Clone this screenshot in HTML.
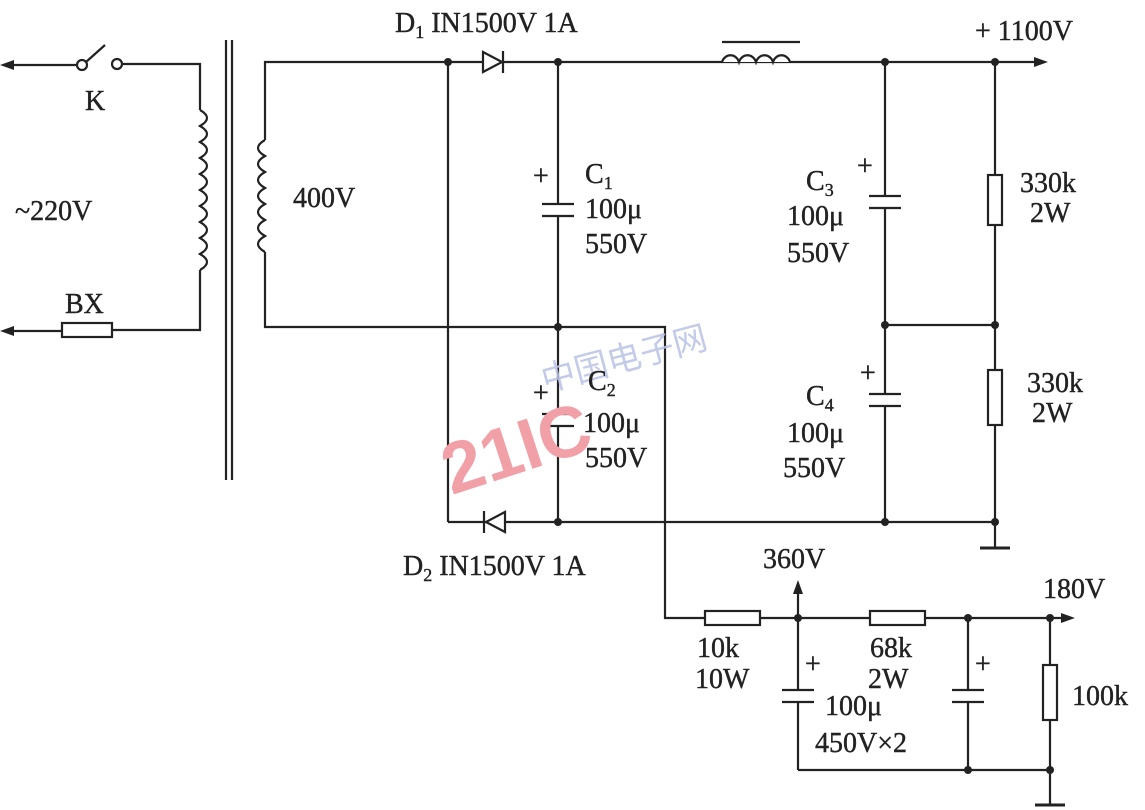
<!DOCTYPE html>
<html><head><style>
body{margin:0;background:#fff;}
svg{display:block}
text{font-family:"Liberation Serif",serif;font-size:28px;fill:#222;stroke:#222;stroke-width:0.4}
</style></head><body>
<svg width="1145" height="810" viewBox="0 0 1145 810" xmlns="http://www.w3.org/2000/svg">
<g stroke="#222" stroke-width="2.2" fill="none">
<line x1="10" y1="65" x2="78" y2="65"/>
<circle cx="82" cy="65" r="5"/><circle cx="117" cy="64" r="5"/>
<line x1="86" y1="62" x2="105" y2="45"/>
<polyline points="122,64 200,64 200,110"/>
<path d="M200,110 q14,8 0,16 q14,8 0,16 q14,8 0,16 q14,8 0,16 q14,8 0,16 q14,8 0,16 q14,8 0,16 q14,8 0,16 q14,8 0,16 q14,8 0,16"/>
<polyline points="200,270 200,330 112,330"/>
<rect x="62" y="323" width="50" height="14"/>
<line x1="10" y1="331" x2="62" y2="331"/>
<line x1="226" y1="40" x2="226" y2="480"/><line x1="232" y1="40" x2="232" y2="480"/>
<polyline points="265,140 265,62 1035,62"/>
<path d="M265,140 q-14,8 0,16 q-14,8 0,16 q-14,8 0,16 q-14,8 0,16 q-14,8 0,16 q-14,8 0,16 q-14,8 0,16"/>
<polyline points="265,252 265,327 665,327 665,618 1065,618"/>
<line x1="448" y1="62" x2="448" y2="522"/>
<line x1="448" y1="522" x2="995" y2="522"/>
<line x1="558" y1="62" x2="558" y2="204"/><line x1="558" y1="216" x2="558" y2="414"/><line x1="558" y1="426" x2="558" y2="522"/>
<line x1="542" y1="204" x2="574" y2="204"/><line x1="542" y1="216" x2="574" y2="216"/>
<line x1="542" y1="414" x2="574" y2="414"/><line x1="542" y1="426" x2="574" y2="426"/>
<line x1="885" y1="62" x2="885" y2="196"/><line x1="885" y1="208" x2="885" y2="394"/><line x1="885" y1="406" x2="885" y2="522"/>
<line x1="869" y1="196" x2="901" y2="196"/><line x1="869" y1="208" x2="901" y2="208"/>
<line x1="869" y1="394" x2="901" y2="394"/><line x1="869" y1="406" x2="901" y2="406"/>
<line x1="885" y1="325" x2="995" y2="325"/>
<line x1="995" y1="62" x2="995" y2="548"/>
<line x1="980" y1="548" x2="1010" y2="548" stroke-width="3"/>
<line x1="798" y1="585" x2="798" y2="690"/><line x1="798" y1="702" x2="798" y2="770"/>
<line x1="782" y1="690" x2="814" y2="690"/><line x1="782" y1="702" x2="814" y2="702"/>
<line x1="968" y1="618" x2="968" y2="690"/><line x1="968" y1="702" x2="968" y2="770"/>
<line x1="952" y1="690" x2="984" y2="690"/><line x1="952" y1="702" x2="984" y2="702"/>
<line x1="798" y1="770" x2="1050" y2="770"/>
<line x1="1050" y1="618" x2="1050" y2="805"/>
<line x1="1035" y1="805" x2="1065" y2="805" stroke-width="3"/>
<path d="M722,62 a9,10 0 0 1 17,0 a9,10 0 0 1 17,0 a9,10 0 0 1 17,0 a9,10 0 0 1 17,0" fill="#fff"/>
<line x1="722" y1="42" x2="800" y2="42"/>
</g>
<g stroke="#222" stroke-width="2.2" fill="#fff">
<rect x="988" y="175" width="14" height="50"/>
<rect x="988" y="370" width="14" height="55"/>
<rect x="705" y="611" width="55" height="14"/>
<rect x="870" y="611" width="55" height="14"/>
<rect x="1043" y="665" width="14" height="55"/>
</g>
<g fill="#fff" stroke="#222" stroke-width="2.2">
<polygon points="483,52 483,72 502,62"/><line x1="503" y1="51" x2="503" y2="73"/>
<polygon points="505,512 505,532 486,522"/><line x1="484" y1="511" x2="484" y2="533"/>
</g>
<g fill="#222">
<polygon points="0,65 14,60 14,70"/><polygon points="0,331 14,326 14,336"/>
<polygon points="1048,62 1034,57 1034,67"/><polygon points="1075,618 1061,613 1061,623"/>
<polygon points="798,580 793,594 803,594"/>
<circle cx="448" cy="62" r="4"/><circle cx="558" cy="62" r="4"/><circle cx="885" cy="62" r="4"/><circle cx="995" cy="62" r="4"/>
<circle cx="558" cy="327" r="4"/><circle cx="885" cy="325" r="4"/><circle cx="995" cy="325" r="4"/>
<circle cx="558" cy="522" r="4"/><circle cx="885" cy="522" r="4"/><circle cx="995" cy="522" r="4"/>
<circle cx="798" cy="618" r="4"/><circle cx="968" cy="618" r="4"/><circle cx="1050" cy="618" r="4"/>
<circle cx="968" cy="770" r="4"/><circle cx="1050" cy="770" r="4"/>
</g>
<text x="440" y="478" style="font-family:'Liberation Sans',sans-serif;font-weight:bold;font-size:72px;fill:#f2a0a8;stroke:none" transform="rotate(-18 500 450)">21IC</text>
<text x="545" y="392" style="font-family:'Noto Sans CJK SC',sans-serif;font-size:34px;fill:#b9c3e6;stroke:none;opacity:.85" transform="rotate(-15 545 392)">中国电子网</text>
<text x="395" y="32">D<tspan font-size="18" dy="6">1</tspan><tspan dy="-6"> IN1500V 1A</tspan></text>
<text x="403" y="575">D<tspan font-size="18" dy="6">2</tspan><tspan dy="-6"> IN1500V 1A</tspan></text>
<text x="85" y="110">K</text>
<text x="15" y="220">~220V</text>
<text x="65" y="313">BX</text>
<text x="293" y="207">400V</text>
<text x="975" y="40">+ 1100V</text>
<text x="533" y="185" font-size="24">+</text>
<text x="585" y="183">C<tspan font-size="18" dy="6">1</tspan></text>
<text x="585" y="218">100μ</text>
<text x="585" y="253">550V</text>
<text x="533" y="402" font-size="24">+</text>
<text x="588" y="390">C<tspan font-size="18" dy="6">2</tspan></text>
<text x="583" y="432">100μ</text>
<text x="585" y="467">550V</text>
<text x="857" y="175" font-size="24">+</text>
<text x="806" y="190">C<tspan font-size="18" dy="6">3</tspan></text>
<text x="787" y="225">100μ</text>
<text x="787" y="262">550V</text>
<text x="860" y="382" font-size="24">+</text>
<text x="806" y="405">C<tspan font-size="18" dy="6">4</tspan></text>
<text x="787" y="442">100μ</text>
<text x="783" y="477">550V</text>
<text x="1020" y="192">330k</text>
<text x="1030" y="222">2W</text>
<text x="1027" y="392">330k</text>
<text x="1032" y="422">2W</text>
<text x="763" y="568">360V</text>
<text x="1043" y="598">180V</text>
<text x="697" y="657">10k</text>
<text x="695" y="688">10W</text>
<text x="870" y="657">68k</text>
<text x="868" y="688">2W</text>
<text x="805" y="673" font-size="24">+</text>
<text x="975" y="673" font-size="24">+</text>
<text x="825" y="715">100μ</text>
<text x="815" y="752">450V×2</text>
<text x="1072" y="705">100k</text>
</svg>
</body></html>
